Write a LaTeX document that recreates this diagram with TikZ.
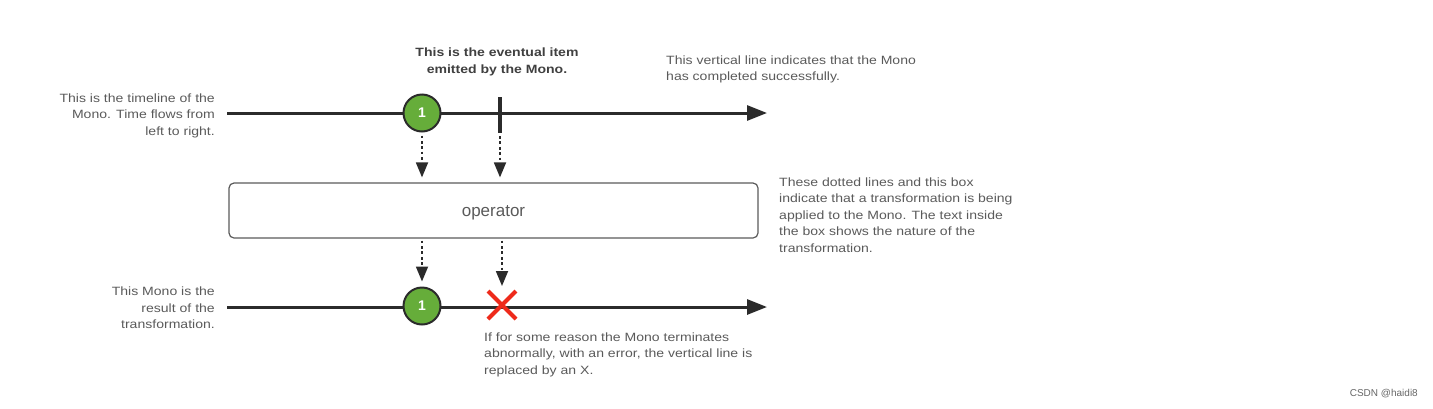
\documentclass[tikz,border=0pt]{standalone}
\usepackage{fontspec}
\setmainfont{Liberation Sans}
\newfontfamily\notefont[FakeStretch=1.17]{Liberation Sans}
\usetikzlibrary{arrows.meta,calc}
\definecolor{linec}{HTML}{2B2B2B}
\definecolor{txtc}{HTML}{5A5A5A}
\definecolor{greenc}{HTML}{66AD3A}
\definecolor{redc}{HTML}{EE2A1B}
\definecolor{boxc}{HTML}{5A5A5A}
\begin{document}
\begin{tikzpicture}[x=1pt,y=-1pt,
  timeline/.style={line width=3pt,draw=linec,-{Triangle[length=20pt,width=15pt]}},
  item/.style={circle,draw=linec,line width=2pt,fill=greenc,minimum size=37pt,inner sep=0pt,text=white,font=\fontsize{14}{14}\selectfont\bfseries},
  dotarrow/.style={draw=linec,line width=1.8pt,dash pattern=on 2.7pt off 2.7pt,-{Triangle[length=15pt,width=12pt]},shorten >=5pt},
  note/.style={text=txtc,inner sep=0pt,font=\notefont\fontsize{12}{16.5}\selectfont},
  opbox/.style={draw=boxc,line width=1.2pt,rounded corners=5pt,minimum width=529pt,minimum height=55pt,text=txtc,text height=12pt,text depth=0pt,font=\fontsize{17}{17}\selectfont},
  completed/.style={draw=linec,line width=4pt},
  errmark/.style={draw=redc,line width=4pt}]
\useasboundingbox (0,0) rectangle (1433,408);
% top timeline
\coordinate (t1s) at (227,113);
\coordinate (t1e) at (767,113);
\draw[timeline] (t1s) -- (t1e);
\node[item] (c1) at (422,113) {1};
\coordinate (tickt) at (500,97);
\coordinate (tickb) at (500,133);
\draw[completed] (tickt) -- (tickb);
% operator box
\node[opbox] (box) at (493.5,210.5) {operator};
\draw[dotarrow] ($(c1.south)+(0,3)$) -- (c1.south |- box.north);
\draw[dotarrow] ($(tickb)+(0,3)$) -- (tickb |- box.north);
% bottom timeline
\coordinate (t2s) at (227,307);
\coordinate (t2e) at (767,307);
\draw[timeline] (t2s) -- (t2e);
\node[item] (c2) at (422,306) {1};
\coordinate (xc) at (502,305);
\draw[errmark] ($(xc)+(-14,-14)$) -- ($(xc)+(14,14)$);
\draw[errmark] ($(xc)+(14,-14)$) -- ($(xc)+(-14,14)$);
\coordinate (xtop) at (502,291);
\draw[dotarrow] ($(box.south -| c2.north)+(0,2)$) -- (c2.north);
\draw[dotarrow] ($(box.south -| xtop)+(0,2)$) -- (xtop);
% notes
\node[note,align=center,font=\notefont\fontsize{12}{16.5}\selectfont\bfseries,text=linec!90] (n1) at (497,62) {This is the eventual item\\emitted by the Mono.};
\node[note,align=left,anchor=west] (n2) at (666,69.5) {This vertical line indicates that the Mono\\has completed successfully.};
\node[note,align=right,anchor=east] (n3) at (215,115.5) {This is the timeline of the\\Mono. Time flows from\\left to right.};
\node[note,align=left,anchor=west] (n4) at (779,215) {These dotted lines and this box\\indicate that a transformation is being\\applied to the Mono. The text inside\\the box shows the nature of the\\transformation.};
\node[note,align=right,anchor=east] (n5) at (215,308) {This Mono is the\\result of the\\transformation.};
\node[note,align=left,anchor=west] (n6) at (484,354.5) {If for some reason the Mono terminates\\abnormally, with an error, the vertical line is\\replaced by an X.};
\node[note,anchor=east,text=black!60,font=\fontsize{10}{10}\selectfont] (wm) at (1418,394) {CSDN @haidi8};
\end{tikzpicture}
\end{document}
